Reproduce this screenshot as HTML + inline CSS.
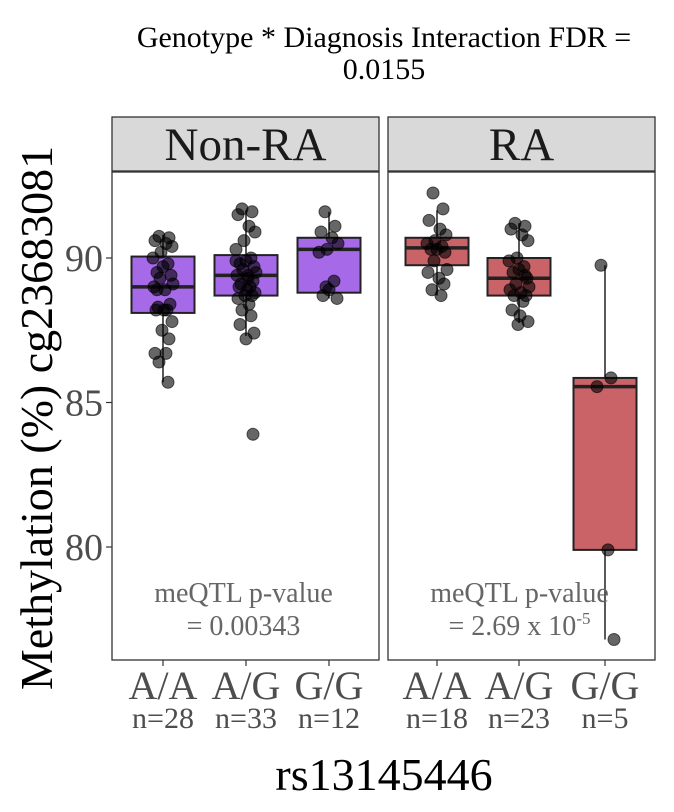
<!DOCTYPE html>
<html><head><meta charset="utf-8"><style>
body{margin:0;background:#fff}
svg text{font-family:"Liberation Serif",serif}
</style></head><body>
<svg id="chart" width="674" height="807">
<text x="384" y="47" font-size="30" text-anchor="middle" fill="#000">Genotype * Diagnosis Interaction FDR =</text>
<text x="384" y="79" font-size="30" text-anchor="middle" fill="#000">0.0155</text>
<text transform="translate(52,418) rotate(-90)" font-size="46" text-anchor="middle" fill="#000">Methylation (%) cg23683081</text>
<text x="384" y="790" font-size="46" text-anchor="middle" fill="#000">rs13145446</text>
<g id="marks"></g>
</svg>
<script>
const panels=["Non-RA","RA"];
const genotypes=["A/A","A/G","G/G"];
const counts=[[28,33,12],[18,23,5]];
const pvals=["= 0.00343","= 2.69 x 10"];
const yTicks=[80,85,90];
// box stats: [whiskerLow,q1,median,q3,whiskerHigh]
const boxNonRA=[[85.7,88.1,89.0,90.05,90.8],[87.3,88.7,89.4,90.1,91.65],[88.6,88.8,90.3,90.7,91.6]];
const boxRA=[[88.7,89.75,90.35,90.7,91.65],[87.75,88.7,89.3,90.0,91.2],[76.8,79.9,85.55,85.85,89.75]];
const ptsNonRA_AA=[90.75,90.7,90.6,90.5,90.4,90.2,90.0,89.8,89.7,89.5,89.4,89.3,89.1,89.0,88.9,88.4,88.3,88.2,88.2,88.2,87.8,87.5,87.2,86.7,86.7,86.4,85.7,88.9];
const ptsNonRA_AG=[91.7,91.6,91.5,91.1,90.9,90.6,90.3,90.0,89.9,89.8,89.7,89.6,89.5,89.4,89.3,89.2,89.1,89.0,89.0,88.9,88.8,88.7,88.7,88.6,88.4,88.2,88.0,87.7,87.4,87.2,89.9,89.4,83.9];
const ptsNonRA_GG=[91.6,91.1,90.9,90.7,90.5,90.3,90.2,89.2,88.9,88.7,88.6,89.0];
const ptsRA_AA=[92.25,91.7,91.3,91.0,90.8,90.6,90.5,90.4,90.3,90.3,90.2,89.9,89.6,89.5,89.3,89.1,88.9,88.7];
const ptsRA_AG=[91.2,91.1,91.0,90.8,90.6,90.0,89.9,89.7,89.6,89.5,89.3,89.1,89.0,88.9,88.8,88.7,88.7,88.5,88.2,88.0,87.8,87.7,89.4];
const ptsRA_GG=[89.75,85.85,85.55,79.9,76.8];
const jitter=[-4,6,-8,3,9,-2,-10,5,0,-6,8,-3,10,-9,2,7,-5,4,-7,1,9,-1,6,-8,3,-4,5,-6,8,0,-10,2,7];

const NS="http://www.w3.org/2000/svg";
const g=document.getElementById('marks');
function mk(t,a,p){const e=document.createElementNS(NS,t);for(const k in a)e.setAttribute(k,a[k]);(p||g).appendChild(e);return e;}
const Y0=258,PX=28.9;
function y(v){return Y0-(v-90)*PX;}
const panelX=[112,388],panelW=267,pTop=172,pBot=660;
const centers=[[163,246,329],[437,519,605]];
function px(pi,gi){return centers[pi][gi];}
const boxes=[boxNonRA,boxRA];
const pts=[[ptsNonRA_AA,ptsNonRA_AG,ptsNonRA_GG],[ptsRA_AA,ptsRA_AG,ptsRA_GG]];
const fills=["#a66ae8","#c96368"];

yTicks.forEach(t=>{
  const tx=mk('text',{x:103,y:y(t)+13,'font-size':38,'text-anchor':'end',fill:'#4d4d4d'});
  
  
  tx.textContent=t;
  const tl=mk('line',{x1:106,x2:112,y1:y(t),y2:y(t),stroke:'#333','stroke-width':1.2});
  
  
});

panels.forEach((pn,pi)=>{
  const x0=panelX[pi];
  const strip=mk('rect',{x:x0,y:117,width:panelW,height:54,fill:'#d9d9d9',stroke:'#333','stroke-width':1.3});
  
  
  const st=mk('text',{x:x0+panelW/2,y:160,'font-size':47,'text-anchor':'middle',fill:'#1a1a1a'});
  
  
  st.textContent=pn;
  const pr=mk('rect',{x:x0,y:pTop,width:panelW,height:pBot-pTop,fill:'#fff',stroke:'#333','stroke-width':1.3});
  
  
  genotypes.forEach((gt,gi)=>{
    const cx=px(pi,gi),b=boxes[pi][gi],w=63;
    const wl=mk('line',{x1:cx,x2:cx,y1:y(b[0]),y2:y(b[4]),stroke:'#222','stroke-width':1.5});
    
    
    const br=mk('rect',{x:cx-w/2,y:y(b[3]),width:w,height:y(b[1])-y(b[3]),fill:fills[pi],stroke:'#222','stroke-width':2});
    
    
    const ml=mk('line',{x1:cx-w/2,x2:cx+w/2,y1:y(b[2]),y2:y(b[2]),stroke:'#222','stroke-width':3.5});
    
    
    pts[pi][gi].forEach((v,k)=>{
      const c=mk('circle',{cx:cx+jitter[k%jitter.length],cy:y(v),r:6,fill:'#000','fill-opacity':0.6,stroke:'#000','stroke-opacity':0.6});
      
      
    });
    const tk=mk('line',{x1:cx,x2:cx,y1:pBot,y2:pBot+6,stroke:'#333','stroke-width':1.2});
    
    
    const xl=mk('text',{x:cx,y:699,'font-size':40,'text-anchor':'middle',fill:'#4d4d4d'});
    
    
    xl.textContent=gt;
    const nl=mk('text',{x:cx,y:728,'font-size':30,'text-anchor':'middle',fill:'#4d4d4d'});
    
    
    nl.textContent='n='+counts[pi][gi];
  });
  const a1=mk('text',{x:x0+panelW/2-2,y:602,'font-size':28,'text-anchor':'middle',fill:'#666'});
  
  
  a1.textContent='meQTL p-value';
  const a2=mk('text',{x:x0+panelW/2-2,y:635,'font-size':28,'text-anchor':'middle',fill:'#666'});
  
  
  a2.textContent=pvals[pi];
  if(pi===1){const s=mk('tspan',{'font-size':17,dy:-11},a2);s.textContent='-5';}
});
</script>
</body></html>
